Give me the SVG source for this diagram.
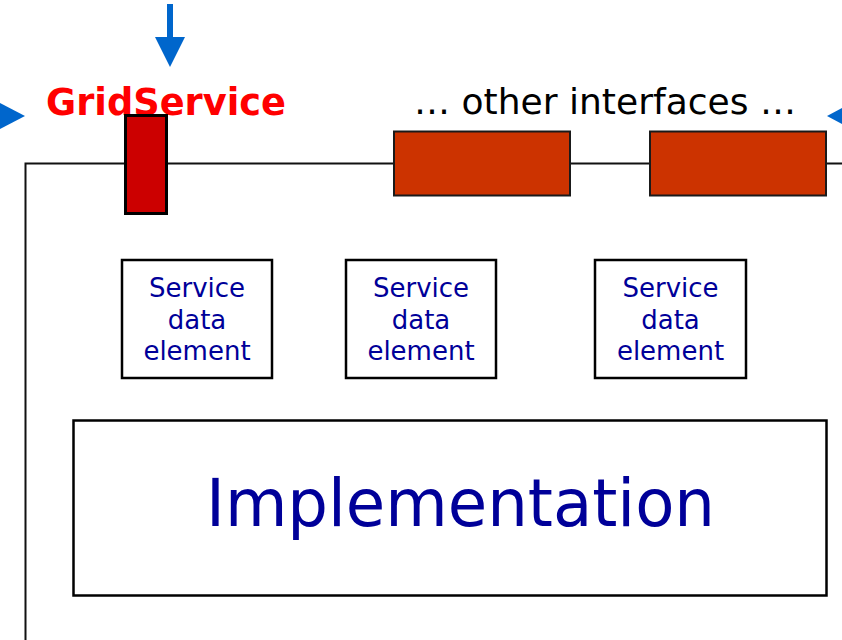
<svg xmlns="http://www.w3.org/2000/svg" width="842" height="640" viewBox="0 0 842 640">
<style>
.sde rect{fill:#fff;stroke:#000;stroke-width:2.5}
.sde text{font-family:"DejaVu Sans",Verdana,sans-serif;font-size:26px;fill:#000099;text-anchor:middle}
.iface{fill:#CC3300;stroke:#1a1a1a;stroke-width:2}
.blue{fill:#0066CC}
</style>
<rect width="842" height="640" fill="#fff"/>
<g id="container">
<path d="M25.5 640 V163.5 H842" fill="none" stroke="#111" stroke-width="2"/>
</g>
<g id="connectors">
<rect class="blue" x="167" y="4" width="6" height="34"/>
<polygon class="blue" points="155,37 185,37 170,67"/>
<polygon class="blue" points="0,103 25,116 0,129"/>
<polygon class="blue" points="842,108 827,116 842,124"/>
</g>
<g id="gridservice">
<text x="46" y="115" font-family="DejaVu Sans, Verdana, sans-serif" font-weight="bold" font-size="36.5" fill="#FF0000" textLength="240" lengthAdjust="spacingAndGlyphs">GridService</text>
<rect x="125.5" y="115.5" width="41" height="98" fill="#CC0000" stroke="#000" stroke-width="3"/>
</g>
<g id="other-interfaces">
<text x="414" y="114" font-family="DejaVu Sans, Verdana, sans-serif" font-size="35" fill="#000" textLength="382" lengthAdjust="spacingAndGlyphs">… other interfaces …</text>
<rect class="iface" x="394" y="131.5" width="176" height="64"/>
<rect class="iface" x="650" y="131.5" width="176" height="64"/>
</g>
<g id="sde1" class="sde">
<rect x="122" y="260" width="150" height="118"/>
<text x="197" y="297">Service</text>
<text x="197" y="329">data</text>
<text x="197" y="360">element</text>
</g>
<g id="sde2" class="sde">
<rect x="346" y="260" width="150" height="118"/>
<text x="421" y="297">Service</text>
<text x="421" y="329">data</text>
<text x="421" y="360">element</text>
</g>
<g id="sde3" class="sde">
<rect x="595" y="260" width="151" height="118"/>
<text x="670.5" y="297">Service</text>
<text x="670.5" y="329">data</text>
<text x="670.5" y="360">element</text>
</g>
<g id="implementation">
<rect x="73.5" y="420.5" width="753" height="175" fill="#fff" stroke="#000" stroke-width="2.5"/>
<text x="206" y="526" font-family="DejaVu Sans, Verdana, sans-serif" font-size="66" fill="#000099" textLength="509" lengthAdjust="spacingAndGlyphs">Implementation</text>
</g>
</svg>
